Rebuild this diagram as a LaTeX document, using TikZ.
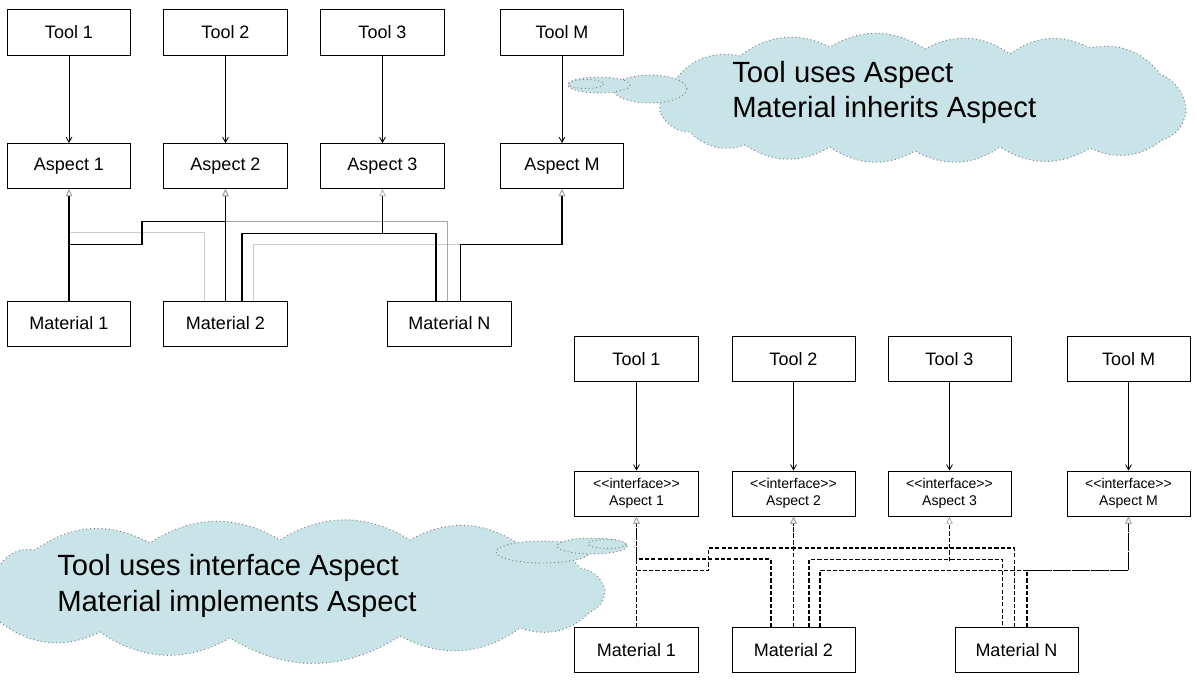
\documentclass[tikz,border=0pt]{standalone}
\usepackage{fontspec}
\setmainfont{Liberation Sans}
\usetikzlibrary{arrows,arrows.meta,calc}
\definecolor{thought}{RGB}{200,228,233}

\begin{document}
\begin{tikzpicture}[x=0.025cm,y=-0.025cm,>=angle 60,
  box/.style={draw,line width=0.7pt,minimum width=3.075cm,minimum height=1.125cm,
    font=\fontsize{12.8}{15}\selectfont},
  iface/.style={box,align=center,font=\fontsize{10}{12}\selectfont},
  uses/.style={->,line width=0.6pt},
  inh/.style={draw,-{Triangle[open,length=5pt,width=4.5pt,color=gray!70,line width=0.5pt]},line width=0.95pt},
  faint/.style={inh,line width=0.6pt},
  impl/.style={inh,line width=1.05pt,dash pattern=on 3pt off 1.5pt},
  bubble/.style={draw=gray,dotted,fill=thought,line width=0.7pt},
  puff/.style={bend left=32},
  remark/.style={anchor=west,align=left,inner sep=0pt,font=\fontsize{20.8}{25}\selectfont}]
\useasboundingbox (0,0) rectangle (1197,694);
%
\draw (69,32.5) node[box] (tool1) {Tool 1};
\draw (tool1) ++ (156.5,0) node[box] (tool2) {Tool 2};
\draw (tool2) ++ (157,0) node[box] (tool3) {Tool 3};
\draw (tool3) ++ (179.5,0) node[box] (toolM) {Tool M};
\draw (tool1) ++ (0,133.5) node[box] (aspect1) {Aspect 1};
\draw (tool2) ++ (0,133.5) node[box] (aspect2) {Aspect 2};
\draw (tool3) ++ (0,133.5) node[box] (aspect3) {Aspect 3};
\draw (toolM) ++ (0,133.5) node[box] (aspectM) {Aspect M};
\draw (aspect1) ++ (0,157.5) node[box] (material1) {Material 1};
\draw (aspect2) ++ (0,157.5) node[box] (material2) {Material 2};
\draw (material2) ++ (224,0) node[box] (materialN) {Material N};
%
\path[draw,uses] (tool1) -- (aspect1);
\path[draw,uses] (tool2) -- (aspect2);
\path[draw,uses] (tool3) -- (aspect3);
\path[draw,uses] (toolM) -- (aspectM);
%
\path[faint,gray!40] (material2.north) ++(-21,0) -- ++(0,-68) -| (aspect1.south);
\path[faint,gray!40] (material2.north) ++(27.5,0) -- ++(0,-56) -| (aspectM.south);
\path[faint,gray!70] (materialN.north) ++(-2.5,0) -- ++(0,-79) -| (aspect2.south);
\path[inh] (material1) -- (aspect1);
\path[inh] (material1.north) ++(0,-56) -- ++(73,0) -- ++(0,-23) -| (aspect2.south);
\path[inh] (material2) -- (aspect2);
\path[inh] ($(aspect3.south)+(0,45)$) -- (aspect3.south);
\path[draw,line width=0.95pt] (material2.north) ++(16.5,0) -- ++(0,-67)
  -| ($(materialN.north)+(-13.5,0)$);
\path[inh] (materialN.north) ++(11,0) -- ++(0,-56) -| (aspectM.south);
%
\draw[bubble] (660,112) to[puff] (675,80) to[puff] (740,56) to[puff] (830,47)
  to[puff] (925,49) to[puff] (1010,54) to[puff] (1090,48) to[puff] (1160,74)
  to[puff] (1186,112) to[puff] (1162,140) to[puff] (1090,148) to[puff] (1000,147)
  to[puff] (915,151) to[puff] (830,147) to[puff] (745,145) to[puff] (690,132)
  to[puff] (660,112) -- cycle;
\draw[bubble] (650,89) ellipse [x radius=37,y radius=14];
\draw[bubble] (599,85) ellipse [x radius=31,y radius=8];
\draw[bubble] (586,84) ellipse [x radius=17.5,y radius=4.5];
\node[remark] (noteInherit) at (732,92.5) {Tool uses Aspect\\Material inherits Aspect};
%
\draw (636.5,359) node[box] (itool1) {Tool 1};
\draw (itool1) ++ (157,0) node[box] (itool2) {Tool 2};
\draw (itool2) ++ (156,0) node[box] (itool3) {Tool 3};
\draw (itool3) ++ (179,0) node[box] (itoolM) {Tool M};
\draw (itool1) ++ (0,134.5) node[iface] (iaspect1) {<{}<interface>{}>\\Aspect 1};
\draw (itool2) ++ (0,134.5) node[iface] (iaspect2) {<{}<interface>{}>\\Aspect 2};
\draw (itool3) ++ (0,134.5) node[iface] (iaspect3) {<{}<interface>{}>\\Aspect 3};
\draw (itoolM) ++ (0,134.5) node[iface] (iaspectM) {<{}<interface>{}>\\Aspect M};
\draw (iaspect1) ++ (0,156.5) node[box] (imaterial1) {Material 1};
\draw (iaspect2) ++ (0,156.5) node[box] (imaterial2) {Material 2};
\draw (imaterial2) ++ (223,0) node[box] (imaterialN) {Material N};
%
\path[draw,uses] (itool1) -- (iaspect1);
\path[draw,uses] (itool2) -- (iaspect2);
\path[draw,uses] (itool3) -- (iaspect3);
\path[draw,uses] (itoolM) -- (iaspectM);
%
\path[impl] (imaterial1) -- (iaspect1);
\path[impl] (imaterial2.north) ++(-22.5,0) -- ++(0,-68) -| (iaspect1.south);
\path[impl] (imaterial1.north) ++(0,-56.5) -- ++(72,0) -- ++(0,-22.5) -| (iaspect2.south);
\path[impl] (imaterialN.north) ++(-2,0) -- ++(0,-79) -| (iaspect2.south);
\path[impl] (imaterial2) -- (iaspect2);
\path[impl] ($(iaspect3.south)+(0,44.5)$) -- (iaspect3.south);
\path[draw,line width=1.05pt,dash pattern=on 3pt off 1.5pt] (imaterial2.north) ++(15.5,0)
  -- ++(0,-67.5) -| ($(imaterialN.north)+(-14,0)$);
\path[impl] (imaterial2.north) ++(26.5,0) -- ++(0,-56.5) -| (iaspectM.south);
\path[impl] (imaterialN.north) ++(10.5,0) -- ++(0,-56.5) -| (iaspectM.south);
%
\draw[bubble] (-15,600) to[puff] (0,565) to[puff] (35,550) to[puff] (150,543)
  to[puff] (280,540) to[puff] (410,540) to[puff] (520,545) to[puff] (580,568)
  to[puff] (605,590) to[puff] (590,612) to[puff] (520,628) to[puff] (400,636)
  to[puff] (230,638) to[puff] (100,632) to[puff] (0,622) to[puff] (-15,600) -- cycle;
\draw[bubble] (543,552) ellipse [x radius=47,y radius=11];
\draw[bubble] (592,546) ellipse [x radius=35,y radius=8];
\draw[bubble] (607,544) ellipse [x radius=19,y radius=4.5];
\node[remark] (noteImplement) at (57,586) {Tool uses interface Aspect\\Material implements Aspect};
\end{tikzpicture}
\end{document}
